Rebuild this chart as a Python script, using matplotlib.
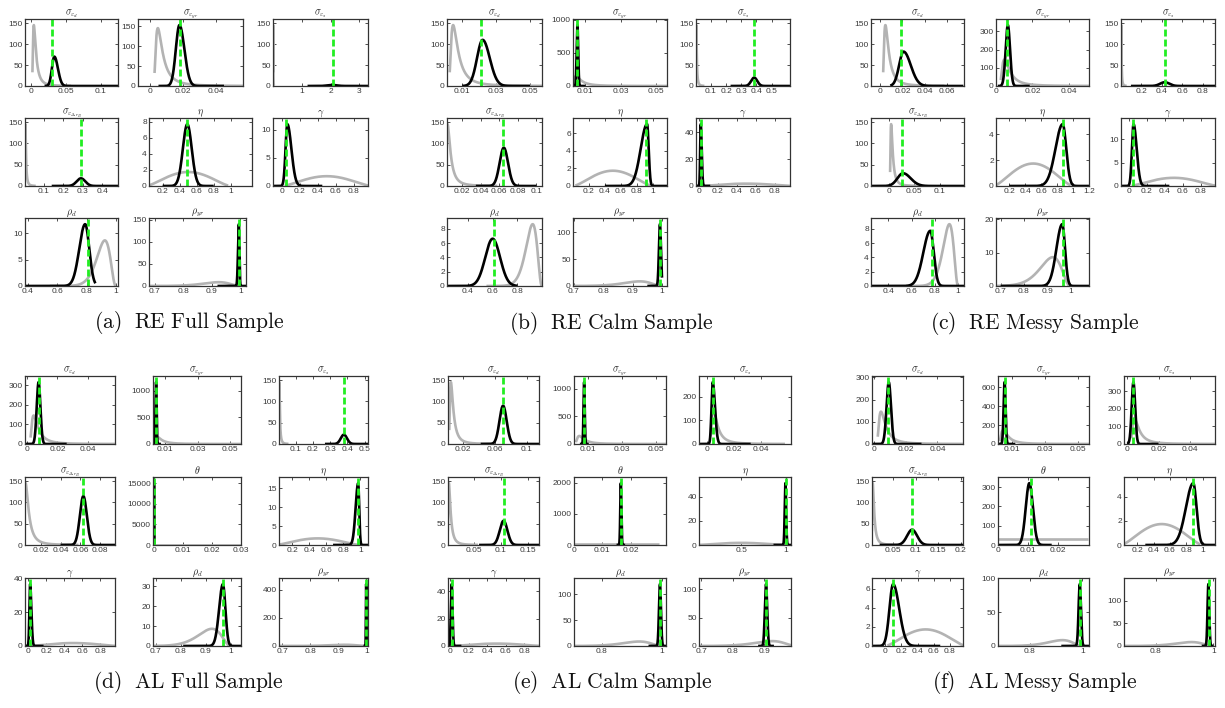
#!/usr/bin/env python3

"""
Prior (grey) and posterior (black) densities of the estimated parameters,
with the posterior mode (green), for the RE and AL models on three samples.
"""

import math

import matplotlib

matplotlib.use("Agg")
import matplotlib.pyplot as plt
import numpy as np
from matplotlib.ticker import FormatStrFormatter, MultipleLocator

# ---------------------------------------------------------------- data
CAPTIONS = [
    ("(a)", "RE Full Sample"), ("(b)", "RE Calm Sample"), ("(c)", "RE Messy Sample"),
    ("(d)", "AL Full Sample"), ("(e)", "AL Calm Sample"), ("(f)", "AL Messy Sample"),
]

RE_PARAMS = [r"\sigma_{\varepsilon_d}", r"\sigma_{\varepsilon_{yr}}", r"\sigma_{\varepsilon_s}",
             r"\sigma_{\varepsilon_{\Delta r_B}}", r"\eta", r"\gamma", r"\rho_d", r"\rho_{yr}"]
AL_PARAMS = RE_PARAMS[:4] + [r"\theta"] + RE_PARAMS[4:]

RE_PRIORS = ["ig", "ig", "ig", "ig", "beta_h", "beta_h", "beta_r", "beta_r"]
AL_PRIORS = ["ig", "ig", "ig", "ig", "unif", "beta_h", "beta_h", "beta_r", "beta_r"]

# prior hyper-parameters (inverse gamma type 1, beta, uniform) and plotted ranges
IG_S, IG_NU = 6.366e-5, 2.0
BETA_H = (2.625, 2.625)
BETA_R = (31.5, 3.5)
UNIF = (0.0, 0.03)
PRIOR_RANGE = {"ig": (0.0026, 0.058), "beta_h": (0.03, 0.97),
               "beta_r": (0.55, 0.999), "unif": (0.0, 0.03)}

XLIMS = [
    [(-0.008, 0.125), (-0.0075, 0.0566), (0, 3.3), (0.003, 0.48), (0.04, 1.25),
     (-0.1, 0.96), (0.38, 1.014), (0.68, 1.02)],
    [(0.001, 0.057), (0.003, 0.056), (0.003, 0.62), (0.004, 0.106), (0.0, 1.18),
     (-0.03, 0.96), (0.23, 1.0), (0.697, 1.017)],
    [(-0.0084, 0.0756), (0.0, 0.051), (0.003, 0.92), (-0.035, 0.148), (0.035, 1.2),
     (-0.09, 0.96), (0.25, 1.05), (0.68, 1.08)],
    [(-0.001, 0.0573), (0.0026, 0.0567), (0.003, 0.52), (0.004, 0.095), (-0.0002, 0.0293),
     (0.046, 1.09), (-0.037, 0.967), (0.69, 1.04), (0.688, 1.006)],
    [(0.001, 0.115), (0.0015, 0.056), (-0.006, 0.0625), (0.003, 0.17), (0.0, 0.0324),
     (0.03, 1.055), (-0.025, 0.96), (0.708, 1.013), (0.693, 0.984)],
    [(-0.001, 0.056), (0.0015, 0.0567), (-0.002, 0.056), (0.003, 0.205), (0.0, 0.0305),
     (0.04, 1.15), (-0.16, 0.96), (0.68, 1.025), (0.69, 1.006)],
]

XTICKS = [
    [[0, 0.05, 0.1], [0, 0.02, 0.04], [1, 2, 3], [0.1, 0.2, 0.3, 0.4],
     [0.2, 0.4, 0.6, 0.8, 1], [0, 0.2, 0.4, 0.6, 0.8], [0.4, 0.6, 0.8, 1], [0.7, 0.8, 0.9, 1]],
    [[0.01, 0.03, 0.05], [0.01, 0.03, 0.05], [0.1, 0.2, 0.3, 0.4, 0.5],
     [0.02, 0.04, 0.06, 0.08, 0.1], [0.2, 0.4, 0.6, 0.8, 1], [0, 0.2, 0.4, 0.6, 0.8],
     [0.4, 0.6, 0.8], [0.7, 0.8, 0.9, 1]],
    [[0, 0.02, 0.04, 0.06], [0, 0.02, 0.04], [0.2, 0.4, 0.6, 0.8], [0, 0.05, 0.1],
     [0.2, 0.4, 0.6, 0.8, 1, 1.2], [0, 0.2, 0.4, 0.6, 0.8], [0.4, 0.6, 0.8, 1],
     [0.7, 0.8, 0.9, 1]],
    [[0, 0.02, 0.04], [0.01, 0.03, 0.05], [0.1, 0.2, 0.3, 0.4, 0.5], [0.02, 0.04, 0.06, 0.08],
     [0, 0.01, 0.02, 0.03], [0.2, 0.4, 0.6, 0.8, 1], [0, 0.2, 0.4, 0.6, 0.8],
     [0.7, 0.8, 0.9, 1], [0.7, 0.8, 0.9, 1]],
    [[0.02, 0.06, 0.1], [0.01, 0.03, 0.05], [0, 0.02, 0.04], [0.05, 0.1, 0.15],
     [0, 0.01, 0.02], [0.5, 1], [0, 0.2, 0.4, 0.6, 0.8], [0.8, 1], [0.7, 0.8, 0.9]],
    [[0, 0.02, 0.04], [0.01, 0.03, 0.05], [0, 0.02, 0.04], [0.05, 0.1, 0.15, 0.2],
     [0, 0.01, 0.02], [0.2, 0.4, 0.6, 0.8, 1], [0, 0.2, 0.4, 0.6, 0.8], [0.8, 1], [0.8, 1]],
]

YTICK_STEP = [
    [50, 50, 50, 50, 2, 5, 5, 50],
    [50, 500, 50, 50, 2, 20, 2, 50],
    [50, 100, 50, 50, 2, 5, 2, 10],
    [100, 500, 50, 50, 5000, 5, 20, 10, 200],
    [50, 500, 100, 50, 1000, 20, 20, 50, 50],
    [100, 200, 100, 50, 100, 2, 2, 50, 50],
]

# posterior density: peak location, peak height, left / right spread, plotted range
POST_PEAK_X = [
    [0.034, 0.0178, 2.05, 0.29, 0.49, 0.06, 0.79, 0.995],
    [0.022, 0.0055, 0.385, 0.065, 0.93, 0.02, 0.6, 0.993],
    [0.021, 0.0065, 0.43, 0.028, 0.87, 0.05, 0.76, 0.965],
    [0.0078, 0.0045, 0.38, 0.063, 0.00015, 0.975, 0.02, 0.968, 0.9995],
    [0.07, 0.0075, 0.0042, 0.105, 0.0165, 0.993, 0.015, 0.993, 0.905],
    [0.0095, 0.0055, 0.004, 0.092, 0.0105, 0.885, 0.1, 0.99, 0.983],
]
POST_PEAK_Y = [
    [70, 153, 2.5, 18, 7.7, 11, 11.7, 140],
    [110, 920, 20, 90, 7.05, 46, 6.6, 115],
    [82, 335, 9, 30, 4.8, 13.2, 7.7, 18.5],
    [315, 1160, 22, 115, 15000, 16.3, 36.6, 31, 440],
    [90, 1120, 262, 57, 1990, 51, 45, 119, 109],
    [278, 655, 352, 36, 320, 5.15, 6.5, 91, 136],
]
POST_SD_LEFT = [
    [0.0035, 0.0022, 0.16, 0.022, 0.052, 0.02, 0.04, 0.003],
    [0.0033, 0.00043, 0.02, 0.0045, 0.08, 0.006, 0.06, 0.0035],
    [0.004, 0.0012, 0.045, 0.011, 0.09, 0.018, 0.06, 0.025],
    [0.0012, 0.00034, 0.018, 0.0035, 0.000027, 0.03, 0.008, 0.015, 0.0009],
    [0.0045, 0.00036, 0.0009, 0.007, 0.0002, 0.0078, 0.009, 0.0033, 0.0037],
    [0.0014, 0.0006, 0.0011, 0.011, 0.0012, 0.09, 0.045, 0.0045, 0.003],
]
POST_SD_RIGHT = [
    [0.005, 0.003, 0.16, 0.022, 0.052, 0.045, 0.028, 0.002],
    [0.0042, 0.00043, 0.02, 0.0045, 0.02, 0.01, 0.06, 0.0035],
    [0.0065, 0.0012, 0.045, 0.015, 0.045, 0.035, 0.03, 0.012],
    [0.0012, 0.00034, 0.018, 0.0035, 0.000027, 0.012, 0.014, 0.01, 0.0009],
    [0.0045, 0.00036, 0.0017, 0.007, 0.0002, 0.0078, 0.009, 0.0033, 0.0037],
    [0.0014, 0.0006, 0.0011, 0.011, 0.0012, 0.04, 0.075, 0.0045, 0.003],
]
POST_RANGE = [
    [(0.02, 0.125), (0.005, 0.045), (1.2, 3.3), (0.14, 0.48), (0.2, 0.8), (-0.1, 0.45),
     (0.38, 0.86), (0.92, 1.02)],
    [(0.01, 0.05), (0.003, 0.01), (0.23, 0.62), (0.035, 0.1), (0.4, 1.18), (-0.03, 0.12),
     (0.23, 0.8), (0.95, 1.0)],
    [(0.009, 0.075), (0.001, 0.0185), (0.1, 0.92), (-0.035, 0.148), (0.2, 1.2),
     (-0.09, 0.45), (0.25, 1.05), (0.7, 1.08)],
    [(-0.001, 0.026), (0.0026, 0.0075), (0.27, 0.52), (0.04, 0.095), (-0.0002, 0.0005),
     (0.68, 1.09), (-0.037, 0.17), (0.81, 1.04), (0.99, 1.006)],
    [(0.042, 0.115), (0.005, 0.01), (-0.006, 0.0325), (0.06, 0.17), (0.015, 0.018),
     (0.86, 1.055), (-0.025, 0.12), (0.955, 1.013), (0.88, 0.93)],
    [(-0.001, 0.03), (0.002, 0.012), (0.0, 0.02), (0.02, 0.205), (0.0, 0.018),
     (0.3, 1.15), (-0.16, 0.68), (0.92, 1.025), (0.96, 1.0)],
]
# posterior mode (green dashed line)
POST_MODE = [
    [0.031, 0.018, 2.07, 0.29, 0.49, 0.05, 0.81, 0.997],
    [0.021, 0.0055, 0.385, 0.064, 0.92, 0.02, 0.61, 0.993],
    [0.019, 0.0063, 0.43, 0.026, 0.88, 0.04, 0.775, 0.967],
    [0.0078, 0.0045, 0.38, 0.063, 0.00015, 0.975, 0.02, 0.968, 0.9995],
    [0.07, 0.0075, 0.0042, 0.105, 0.0165, 0.995, 0.015, 0.993, 0.905],
    [0.009, 0.0055, 0.004, 0.092, 0.011, 0.88, 0.095, 0.99, 0.985],
]

# ---------------------------------------------------------------- layout (pixels)
W, H = 1225, 708
ROW_Y = [[(19, 86), (118, 186), (218, 286)], [(376, 444), (477, 545), (578, 646)]]
COL_X = [
    [(25, 118), (145, 248), (273, 368)],
    [(447, 542), (573, 667), (696, 790)],
    [(871, 964), (996, 1089), (1121, 1215)],
    [(25, 115), (153, 241), (279, 368)],
    [(448, 539), (574, 666), (699, 791)],
    [(872, 963), (998, 1089), (1124, 1215)],
]
A_MID_COL = [(138, 243), (149, 252), (149, 246)]
CAPTION_XY = [(189, 322), (611, 323), (1035, 323), (188, 683), (612, 683), (1035, 683)]

GREY = (0.7, 0.7, 0.7)
GREEN = "#22ee22"
AXIS_COL = "#333333"


def prior_density(kind, x):
    if kind == "ig":
        logp = (math.log(2) - math.lgamma(IG_NU / 2) + IG_NU / 2 * math.log(IG_S / 2)
                - (IG_NU + 1) * np.log(x) - IG_S / (2 * x ** 2))
        return np.exp(logp)
    if kind in ("beta_h", "beta_r"):
        a, b = BETA_H if kind == "beta_h" else BETA_R
        lbeta = math.lgamma(a) + math.lgamma(b) - math.lgamma(a + b)
        return np.exp((a - 1) * np.log(x) + (b - 1) * np.log(1 - x) - lbeta)
    return np.full_like(x, 1.0 / (UNIF[1] - UNIF[0]))


def axes_rect(left, right, top, bottom):
    return [left / W, 1 - bottom / H, (right - left) / W, (bottom - top) / H]


def plot_param(ax, p, i, title, prior):
    x0, x1 = PRIOR_RANGE[prior]
    xp = np.linspace(x0, x1, 800)
    yp = prior_density(prior, xp)

    lo, hi = POST_RANGE[p][i]
    xq = np.linspace(lo, hi, 800)
    mode = POST_PEAK_X[p][i]
    sd = np.where(xq < mode, POST_SD_LEFT[p][i], POST_SD_RIGHT[p][i])
    yq = POST_PEAK_Y[p][i] * np.exp(-0.5 * ((xq - mode) / sd) ** 2)

    top = 1.1 * max(yp.max(), yq.max())
    ax.plot(xp, yp, color=GREY, lw=1.9, solid_capstyle="butt")
    ax.plot(xq, yq, color="k", lw=1.9, solid_capstyle="butt")
    ax.plot([POST_MODE[p][i]] * 2, [0, top], color=GREEN, lw=2.0,
            ls=(0, (2.5, 1.1)))

    ax.set_xlim(*XLIMS[p][i])
    ax.set_ylim(0, top)
    ax.set_xticks(XTICKS[p][i])
    ax.yaxis.set_major_locator(MultipleLocator(YTICK_STEP[p][i]))
    ax.xaxis.set_major_formatter(FormatStrFormatter("%g"))
    ax.yaxis.set_major_formatter(FormatStrFormatter("%g"))
    ax.tick_params(direction="in", top=True, right=True, length=2.0, width=0.6,
                   labelsize=6.0, labelcolor="#3a3a3a", color=AXIS_COL, pad=1.6)
    for spine in ax.spines.values():
        spine.set_linewidth(0.9)
        spine.set_color(AXIS_COL)
    ax.set_title(f"${title}$", fontsize=7.2, pad=2.5, color="#222222")


def main() -> None:
    plt.rcParams["font.family"] = ["Liberation Sans", "DejaVu Sans"]
    plt.rcParams["mathtext.fontset"] = "cm"
    fig = plt.figure(figsize=(W / 100, H / 100), dpi=100)

    for p in range(6):
        names = RE_PARAMS if p < 3 else AL_PARAMS
        priors = RE_PRIORS if p < 3 else AL_PRIORS
        rows = ROW_Y[p // 3]
        for i, (name, prior) in enumerate(zip(names, priors)):
            r, c = divmod(i, 3)
            left, right = COL_X[p][c]
            if p == 0 and c == 1:
                left, right = A_MID_COL[r]
            top, bottom = rows[r]
            ax = fig.add_axes(axes_rect(left, right, top, bottom))
            plot_param(ax, p, i, name, prior)

        tag, name = CAPTIONS[p]
        cx, cy = CAPTION_XY[p]
        label = name.replace(" ", r"\ ")
        fig.text(cx / W, 1 - cy / H, rf"$\mathrm{{{tag}\ \ {label}}}$",
                 fontsize=15.5, ha="center", va="center", color="#111111")

    fig.savefig("out.png", dpi=100, facecolor="white")


if __name__ == "__main__":
    main()
